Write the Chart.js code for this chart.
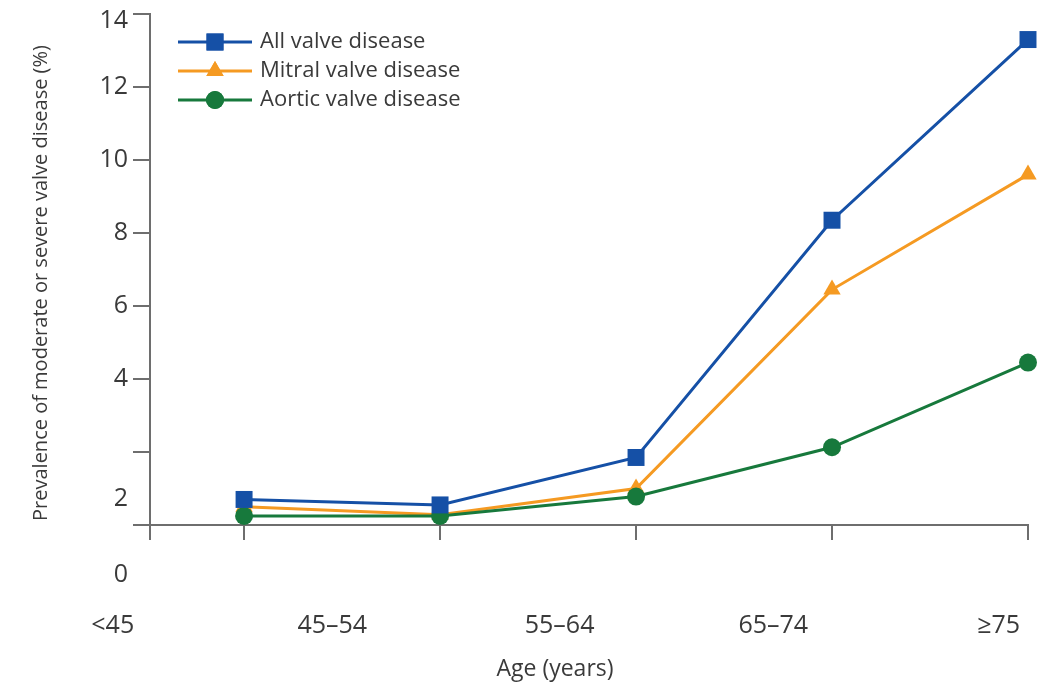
<!DOCTYPE html>
<html><head><meta charset="utf-8">
<script src="https://cdn.jsdelivr.net/npm/chart.js@4.4.0/dist/chart.umd.min.js"></script>
<style>html,body{margin:0;padding:0;background:#fff}#wrap{width:1040px;height:685px}</style>
</head><body><div id="wrap"><canvas id="c" width="1040" height="685"></canvas></div>
<script>
// ---- data ----
const ageGroups = ['<45', '45–54', '55–64', '65–74', '≥75'];
const allValve = [0.70, 0.55, 1.85, 8.35, 13.3];
const mitralValve = [0.50, 0.28, 1.00, 6.45, 9.60];
const aorticValve = [0.25, 0.25, 0.78, 2.13, 4.45];
const seriesNames = ['All valve disease', 'Mitral valve disease', 'Aortic valve disease'];
const yTickValues = [0, 2, 4, 6, 8, 10, 12, 14];
const yTitle = 'Prevalence of moderate or severe valve disease (%)';
const xTitle = 'Age (years)';

// ---- styles ----
const BLUE = '#1550a6', ORANGE = '#f59a22', GREEN = '#17793c';
const AXIS = '#6e6e6e', TEXT = '#3a3a3a';
const FONT = '"Open Sans", "Noto Sans", sans-serif';

function pts(arr) { return arr.map((v, i) => ({ x: i + 1, y: v })); }

function legendImage(color, style, radius) {
  const cv = document.createElement('canvas');
  cv.width = 100; cv.height = 26;
  const g = cv.getContext('2d');
  g.strokeStyle = color; g.lineWidth = 3;
  g.beginPath(); g.moveTo(25, 13); g.lineTo(99, 13); g.stroke();
  g.fillStyle = color; g.strokeStyle = color;
  Chart.helpers.drawPoint(g, { pointStyle: style, radius: radius, borderWidth: 0, rotation: 0 }, 62, 13);
  g.fill();
  return cv;
}

const legendImgs = [
  legendImage(BLUE, 'rect', 12),
  legendImage(ORANGE, 'triangle', 10),
  legendImage(GREEN, 'circle', 9)
];

const labelPlugin = {
  id: 'labelPlugin',
  afterDraw(chart) {
    const { ctx, scales: { x, y } } = chart;
    ctx.save();
    ctx.fillStyle = TEXT;
    ctx.font = '25px ' + FONT;
    // y tick labels (the source figure places "2", "0" and "14" slightly off their ticks)
    const yShift = { 14: 7, 2: 47, 0: 50 };
    ctx.textAlign = 'right'; ctx.textBaseline = 'middle';
    yTickValues.forEach(v => {
      ctx.fillText(String(v), 128, y.getPixelForValue(v) + (yShift[v] || 0));
    });
    // x tick labels (offset from the tick marks as in the source figure)
    const xLabelAt = [0.33, 1.45, 2.61, 3.70, 4.85];
    ctx.textAlign = 'center';
    ageGroups.forEach((lab, i) => {
      ctx.fillText(lab, x.getPixelForValue(xLabelAt[i]), 626);
    });
    // titles
    ctx.font = '23px ' + FONT;
    ctx.fillText(xTitle, 555, 669);
    ctx.font = '20px ' + FONT;
    ctx.translate(41, 283);
    ctx.rotate(-Math.PI / 2);
    ctx.fillText(yTitle, 0, 0);
    ctx.restore();
  }
};

const axisCommon = {
  ticks: { display: false },
  grid: { drawOnChartArea: false, drawTicks: true, color: AXIS, lineWidth: 2 },
  border: { display: true, color: AXIS, width: 2 }
};

new Chart(document.getElementById('c'), {
  type: 'line',
  data: {
    datasets: [
      { label: seriesNames[0], data: pts(allValve), borderColor: BLUE, backgroundColor: BLUE,
        pointStyle: 'rect', pointRadius: 12, pointBorderWidth: 0, borderWidth: 3, order: 0 },
      { label: seriesNames[1], data: pts(mitralValve), borderColor: ORANGE, backgroundColor: ORANGE,
        pointStyle: 'triangle', pointRadius: 10, pointBorderWidth: 0, borderWidth: 3, order: 2 },
      { label: seriesNames[2], data: pts(aorticValve), borderColor: GREEN, backgroundColor: GREEN,
        pointStyle: 'circle', pointRadius: 9, pointBorderWidth: 0, borderWidth: 3, order: 1 }
    ].map(d => Object.assign(d, { clip: false, tension: 0, fill: false }))
  },
  options: {
    responsive: false,
    devicePixelRatio: 1,
    animation: false,
    layout: { padding: { top: 14, right: 12, left: 0, bottom: 0 } },
    scales: {
      x: Object.assign({}, axisCommon, {
        type: 'linear', min: 0.52, max: 5,
        grid: Object.assign({}, axisCommon.grid, { tickLength: 15 }),
        afterBuildTicks: s => { s.ticks = [0.52, 1, 2, 3, 4, 5].map(v => ({ value: v })); },
        afterFit: s => { s.height = 160; }
      }),
      y: Object.assign({}, axisCommon, {
        type: 'linear', min: 0, max: 14,
        grid: Object.assign({}, axisCommon.grid, { tickLength: 17 }),
        afterBuildTicks: s => { s.ticks = yTickValues.map(v => ({ value: v })); },
        afterFit: s => { s.width = 150; }
      })
    },
    plugins: {
      tooltip: { enabled: false },
      legend: {
        position: 'chartArea', align: 'start',
        title: { display: true, text: '', font: { size: 1, lineHeight: 1 }, padding: { top: 23, bottom: 0 } },
        labels: {
          usePointStyle: true, pointStyleWidth: 92, padding: 7,
          color: TEXT, font: { size: 22, family: FONT },
          generateLabels: chart => seriesNames.map((name, i) => ({
            text: name, pointStyle: legendImgs[i], fillStyle: 'transparent', strokeStyle: 'transparent',
            lineWidth: 0, hidden: false, datasetIndex: i, fontColor: TEXT
          }))
        }
      }
    }
  },
  plugins: [labelPlugin]
});
</script>
</body></html>
